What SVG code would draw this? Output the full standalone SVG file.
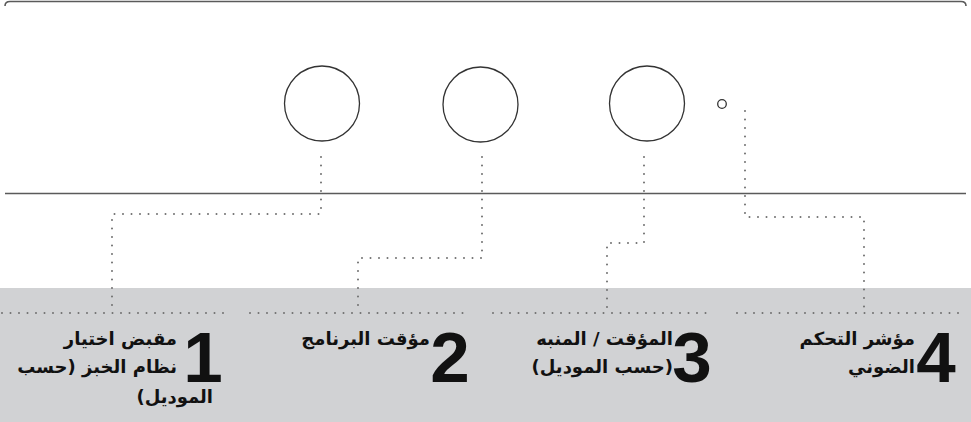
<svg xmlns="http://www.w3.org/2000/svg" width="971" height="422" viewBox="0 0 971 422">
<style>
.frame{fill:none;stroke:#5a5a5a;stroke-width:1.6}
.knob{fill:#fff;stroke:#333;stroke-width:1.3}
.dot{fill:none;stroke:#707070;stroke-width:2;stroke-linecap:round;stroke-dasharray:0 8.5}
.num{font-family:"Liberation Sans",Arial,sans-serif;font-weight:bold;font-size:71px;fill:#111;text-anchor:middle}
.lbl{font-family:"DejaVu Sans","Noto Sans",sans-serif;font-weight:bold;font-size:18px;fill:#111;text-anchor:start}
</style>
<rect x="0" y="0" width="971" height="422" fill="#fff"/>
<rect id="panel" x="0" y="288" width="971" height="134" fill="#d1d2d4"/>
<g id="appliance">
<path class="frame" d="M5 6 Q5 1.5 10 1.5 H961 Q966 1.5 966 6"/>
<path class="frame" d="M5 193.5 H966"/>
</g>
<g id="knob1"><circle class="knob" cx="322" cy="103.5" r="37.5"/></g>
<g id="knob2"><circle class="knob" cx="480.5" cy="104.5" r="37.5"/></g>
<g id="knob3"><circle class="knob" cx="647" cy="103.5" r="37.5"/></g>
<g id="indicator"><circle class="knob" cx="722" cy="104" r="4.3"/></g>
<g id="separators">
<path class="dot" d="M2 313 H227"/>
<path class="dot" d="M250 313 H467"/>
<path class="dot" d="M493 313 H713"/>
<path class="dot" d="M737 313 H962"/>
</g>
<g id="connectors">
<path class="dot" d="M321 157 V214 H112 V312"/>
<path class="dot" d="M482 157 V258 H358 V312"/>
<path class="dot" d="M644 157 V243 H607 V312"/>
<path class="dot" d="M745 111 V217 H864 V312"/>
</g>
<g id="label1">
<text class="num" x="203" y="382">1</text>
<text class="lbl" direction="rtl" x="177" y="345">مقبض اختيار</text>
<text class="lbl" direction="rtl" x="177" y="373">نظام الخبز (حسب</text>
<text class="lbl" direction="rtl" x="213" y="403">الموديل)</text>
</g>
<g id="label2">
<text class="num" x="450" y="382">2</text>
<text class="lbl" direction="rtl" x="430" y="345">مؤقت البرنامج</text>
</g>
<g id="label3">
<text class="num" x="692" y="382">3</text>
<text class="lbl" direction="rtl" x="673" y="345">المؤقت / المنبه</text>
<text class="lbl" direction="rtl" x="673" y="373">(حسب الموديل)</text>
</g>
<g id="label4">
<text class="num" x="936" y="382">4</text>
<text class="lbl" direction="rtl" x="915" y="345">مؤشر التحكم</text>
<text class="lbl" direction="rtl" x="915" y="373">الضوني</text>
</g>
</svg>
